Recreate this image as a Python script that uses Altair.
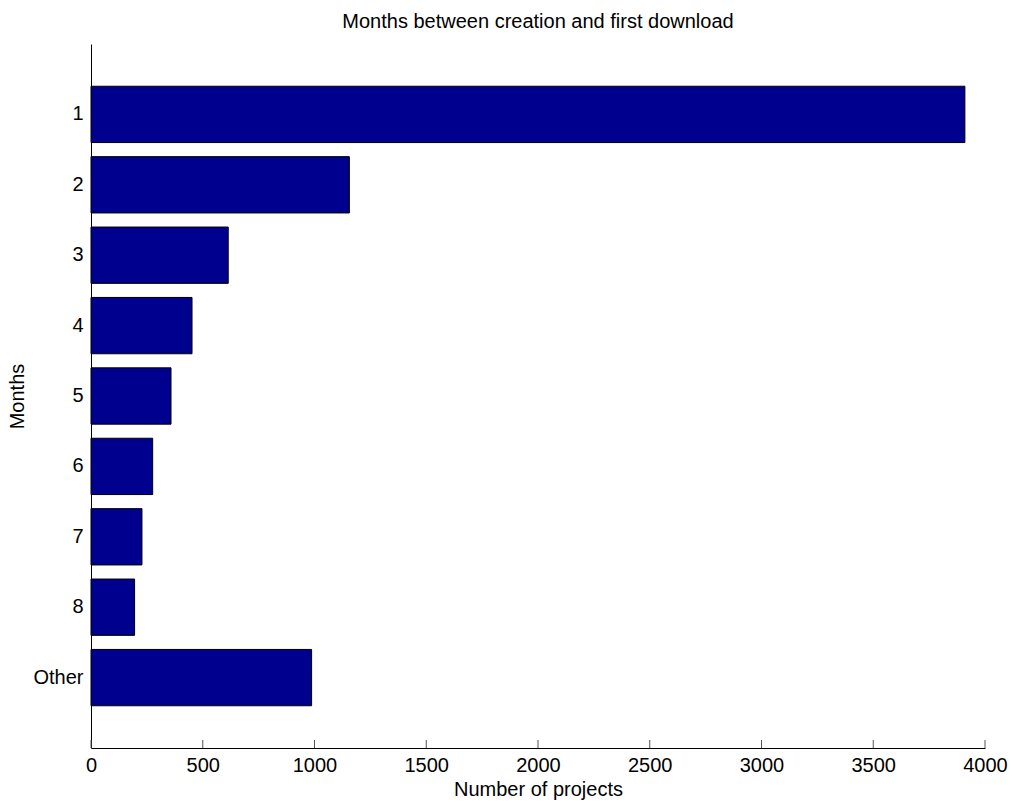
import altair as alt
import pandas as pd

# Projects grouped by the number of months until their first download
months = ["1", "2", "3", "4", "5", "6", "7", "8", "Other"]
projects = [3910, 1156, 614, 452, 358, 276, 228, 195, 987]
x_ticks = [0, 500, 1000, 1500, 2000, 2500, 3000, 3500, 4000]

FONT = "Liberation Sans"
FS = 20
W, H = 894, 704

bars_df = pd.DataFrame({"Months": months, "Projects": projects})
ticks_df = pd.DataFrame({"tick": x_ticks})

x_scale = alt.Scale(domain=[0, 4000], nice=False, zero=True)
x_title = "Number of projects"

bars = alt.Chart(bars_df).mark_bar(
    color="#00008F", stroke="black", strokeWidth=1
).encode(
    x=alt.X(
        "Projects:Q",
        scale=x_scale,
        title=x_title,
        axis=alt.Axis(
            values=x_ticks,
            format="d",
            ticks=False,
            labelPadding=7,
            titlePadding=4,
            labelFlush=False,
            labelOverlap=False,
        ),
    ),
    y=alt.Y(
        "Months:N",
        sort=months,
        scale=alt.Scale(paddingInner=0.2, paddingOuter=0.6),
        axis=alt.Axis(
            title="Months",
            ticks=False,
            labelPadding=8,
            titlePadding=5,
        ),
    ),
)

# inward-pointing tick marks along the bottom axis
tick_marks = alt.Chart(ticks_df).mark_rule(color="#555555", strokeWidth=1).encode(
    x=alt.X("tick:Q", scale=x_scale, title=x_title),
    y=alt.value(H - 8),
    y2=alt.value(H),
)

chart = (
    alt.layer(bars, tick_marks)
    .properties(
        width=W,
        height=H,
        autosize="none",
        padding={"left": 91, "top": 44, "right": 27, "bottom": 55},
        title=alt.TitleParams(
            "Months between creation and first download",
            font=FONT,
            fontSize=FS,
            fontWeight="normal",
            color="black",
            anchor="middle",
            offset=12,
        ),
    )
    .configure_view(stroke=None)
    .configure_axis(
        grid=False,
        domainColor="black",
        domainWidth=1,
        labelFont=FONT,
        labelFontSize=FS,
        labelColor="black",
        titleFont=FONT,
        titleFontSize=FS,
        titleFontWeight="normal",
        titleColor="black",
    )
)

chart.save("out.html", embed_options={"renderer": "svg", "actions": False})
